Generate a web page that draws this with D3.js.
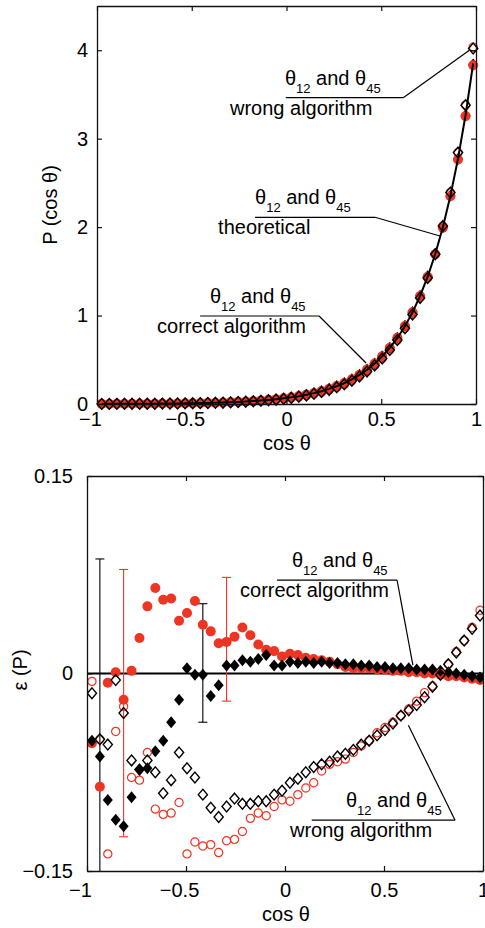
<!DOCTYPE html>
<html>
<head>
<meta charset="utf-8">
<script src="https://cdn.jsdelivr.net/npm/d3@7"></script>
<style>
  html, body { margin: 0; padding: 0; background: #fff; }
  svg { display: block; font-family: "Liberation Sans", Arial, Helvetica, sans-serif; }
</style>
</head>
<body>
<svg id="chart" width="485" height="928"></svg>
<script>
// cos(theta) bin centres shared by both panels
const cosTheta = [
  -0.975,-0.935,-0.895,-0.855,-0.815,-0.775,-0.735,-0.695,-0.655,-0.615,
  -0.575,-0.535,-0.495,-0.455,-0.415,-0.375,-0.335,-0.295,-0.255,-0.215,
  -0.175,-0.135,-0.095,-0.055,-0.015, 0.025, 0.065, 0.105, 0.145, 0.185,
   0.225, 0.265, 0.305, 0.345, 0.385, 0.425, 0.465, 0.505, 0.545, 0.585,
   0.625, 0.665, 0.705, 0.745, 0.785, 0.825, 0.865, 0.905, 0.945, 0.985
];

// Upper panel: P(cos theta)
const pTheory = [
  0.0013,0.0015,0.0017,0.0021,0.0024,0.0028,0.0033,0.0039,0.0046,0.0055,
  0.0064,0.0076,0.0089,0.0105,0.0124,0.0146,0.0172,0.0203,0.0239,0.0281,
  0.0331,0.0390,0.0460,0.0542,0.0638,0.0752,0.0886,0.1044,0.1230,0.1449,
  0.1707,0.2011,0.2369,0.2792,0.3289,0.3875,0.4566,0.5380,0.6338,0.7468,
  0.8799,1.0367,1.2214,1.4391,1.6956,1.9978,2.3538,2.7733,3.2676,3.8500
];
const pCorrect12 = [
  0.0012,0.0014,0.0017,0.0021,0.0024,0.0028,0.0034,0.0041,0.0049,0.0058,
  0.0068,0.0079,0.0093,0.0111,0.0129,0.0151,0.0176,0.0208,0.0246,0.0291,
  0.0341,0.0399,0.0468,0.0551,0.0646,0.0763,0.0898,0.1057,0.1244,0.1463,
  0.1722,0.2025,0.2381,0.2803,0.3302,0.3891,0.4580,0.5396,0.6351,0.7483,
  0.8808,1.0377,1.2214,1.4391,1.6939,1.9938,2.3491,2.7650,3.2545,3.8308
];
const pCorrect45 = [
  0.0012,0.0014,0.0015,0.0019,0.0021,0.0025,0.0031,0.0036,0.0043,0.0052,
  0.0062,0.0074,0.0089,0.0105,0.0124,0.0144,0.0170,0.0204,0.0240,0.0284,
  0.0334,0.0394,0.0466,0.0545,0.0642,0.0759,0.0893,0.1053,0.1240,0.1462,
  0.1721,0.2027,0.2386,0.2812,0.3309,0.3898,0.4589,0.5407,0.6363,0.7498,
  0.8834,1.0398,1.2251,1.4434,1.6990,1.9998,2.3538,2.7705,3.2611,3.8385
];
const pWrong12 = [
  0.0013,0.0014,0.0015,0.0020,0.0023,0.0026,0.0030,0.0037,0.0041,0.0049,
  0.0057,0.0069,0.0077,0.0092,0.0108,0.0127,0.0149,0.0177,0.0209,0.0247,
  0.0295,0.0349,0.0410,0.0487,0.0577,0.0679,0.0804,0.0953,0.1128,0.1342,
  0.1589,0.1876,0.2215,0.2624,0.3108,0.3677,0.4361,0.5159,0.6103,0.7229,
  0.8561,1.0149,1.2037,1.4254,1.6956,2.0118,2.3926,2.8426,3.3820,4.0348
];
const pWrong45 = [
  0.0013,0.0014,0.0016,0.0021,0.0023,0.0026,0.0031,0.0036,0.0043,0.0050,
  0.0059,0.0071,0.0083,0.0097,0.0113,0.0131,0.0153,0.0182,0.0216,0.0253,
  0.0298,0.0352,0.0415,0.0492,0.0581,0.0690,0.0815,0.0966,0.1143,0.1349,
  0.1593,0.1884,0.2224,0.2630,0.3111,0.3677,0.4351,0.5149,0.6097,0.7229,
  0.8553,1.0118,1.1994,1.4247,1.6939,2.0118,2.3915,2.8426,3.3787,4.0194
];

// Lower panel: relative error epsilon(P)
const errCorrect12 = [
  -0.053,-0.086,-0.007, 0.001,-0.020, 0.002, 0.027, 0.051, 0.065, 0.056,
   0.057, 0.040, 0.046, 0.055, 0.037, 0.032, 0.023, 0.024, 0.028, 0.035,
   0.029, 0.022, 0.018, 0.017, 0.013, 0.015, 0.014, 0.012, 0.011, 0.010,
   0.009, 0.007, 0.005, 0.004, 0.004, 0.004, 0.003, 0.003, 0.002, 0.002,
   0.001, 0.001, 0.000, 0.000,-0.001,-0.002,-0.002,-0.003,-0.004,-0.005
];
const errCorrect45 = [
  -0.051,-0.063,-0.096,-0.111,-0.116,-0.094,-0.073,-0.072,-0.059,-0.051,
  -0.037,-0.020, 0.004,-0.001,-0.001,-0.017,-0.009, 0.006, 0.006, 0.010,
   0.009, 0.011, 0.014, 0.006, 0.006, 0.009, 0.008, 0.009, 0.008, 0.009,
   0.008, 0.008, 0.007, 0.007, 0.006, 0.006, 0.005, 0.005, 0.004, 0.004,
   0.004, 0.003, 0.003, 0.003, 0.002, 0.001, 0.000,-0.001,-0.002,-0.003
];
const errWrong12 = [
  -0.006,-0.050,-0.137,-0.044,-0.025,-0.079,-0.081,-0.060,-0.103,-0.107,
  -0.106,-0.098,-0.137,-0.128,-0.131,-0.130,-0.136,-0.127,-0.126,-0.120,
  -0.110,-0.106,-0.108,-0.101,-0.096,-0.097,-0.092,-0.087,-0.083,-0.074,
  -0.069,-0.067,-0.065,-0.060,-0.055,-0.051,-0.045,-0.041,-0.037,-0.032,
  -0.027,-0.021,-0.0145,-0.0095,0.000, 0.007, 0.0165,0.025, 0.035, 0.048
];
const errWrong45 = [
  -0.015,-0.050,-0.054,-0.005,-0.030,-0.066,-0.073,-0.066,-0.075,-0.091,
  -0.081,-0.060,-0.072,-0.079,-0.092,-0.102,-0.109,-0.101,-0.095,-0.099,
  -0.099,-0.097,-0.097,-0.092,-0.089,-0.083,-0.080,-0.075,-0.071,-0.069,
  -0.067,-0.063,-0.061,-0.058,-0.054,-0.051,-0.047,-0.043,-0.038,-0.032,
  -0.028,-0.024,-0.018,-0.010,-0.001, 0.007, 0.016, 0.025, 0.034, 0.044
];

// Error bars in the lower panel
const errBarX      = [-0.935, -0.815, -0.415, -0.295];
const errBarLow    = [-0.213, -0.124, -0.037, -0.021];
const errBarHigh   = [ 0.087,  0.079,  0.053,  0.073];
const errBarSeries = ["correct45", "correct12", "correct45", "correct12"];

// Tick values and labels
const xTicks = [-1, -0.5, 0, 0.5, 1];
const xTickLabels = ["\u22121", "\u22120.5", "0", "0.5", "1"];
const pTicks = [0, 1, 2, 3, 4];
const pTickLabels = ["0", "1", "2", "3", "4"];
const errTicks = [-0.15, 0, 0.15];
const errTickLabels = ["\u22120.15", "0", "0.15"];

// ---------------------------------------------------------------
const RED = "#ee3524";
const svg = d3.select("#chart");

const styles = {
  correct12: { shape: "circle",  filled: true,  color: RED },
  correct45: { shape: "diamond", filled: true,  color: "#000" },
  wrong12:   { shape: "circle",  filled: false, color: RED },
  wrong45:   { shape: "diamond", filled: false, color: "#000" }
};

function markerPath(shape, filled) {
  if (shape === "circle") {
    const r = filled ? 5 : 4.1;
    return `M${r},0A${r},${r} 0 1,1 ${-r},0A${r},${r} 0 1,1 ${r},0Z`;
  }
  const w = filled ? 5 : 4.6, h = filled ? 6 : 5.4;
  return `M0,${-h}L${w},0L0,${h}L${-w},0Z`;
}

function drawSeries(g, x, y, key, values) {
  const st = styles[key];
  g.append("g").selectAll("path")
    .data(values.map((v, i) => [cosTheta[i], v]))
    .join("path")
    .attr("transform", d => `translate(${x(d[0])},${y(d[1])})`)
    .attr("d", markerPath(st.shape, st.filled))
    .attr("fill", st.filled ? st.color : "none")
    .attr("stroke", st.filled ? "none" : st.color)
    .attr("stroke-width", st.filled ? 0 : (st.shape === "circle" ? 1.2 : 1.4));
}

function frame(g, x, y, o) {
  const [x0, x1] = x.range();
  const [y0, y1] = y.range();
  const font = sel => sel.selectAll("text")
    .attr("font-size", 20)
    .attr("font-family", "'Liberation Sans', Arial, Helvetica, sans-serif")
    .attr("fill", "#000");

  const bx = g.append("g").attr("transform", `translate(0,${y0})`)
    .call(d3.axisBottom(x).tickValues(xTicks).tickSize(-5).tickSizeOuter(0)
      .tickPadding(o.xPad).tickFormat((d, i) => xTickLabels[i]));
  font(bx);
  bx.selectAll("text").attr("dx", d => d < 0 ? -7 : 0);

  const ly = g.append("g").attr("transform", `translate(${x0},0)`)
    .call(d3.axisLeft(y).tickValues(o.yTicks).tickSize(-5).tickSizeOuter(0)
      .tickPadding(o.yPad).tickFormat((d, i) => o.yLabels[i]));
  font(ly);

  g.append("g").attr("transform", `translate(0,${y1})`)
    .call(d3.axisTop(x).tickValues(xTicks).tickSize(-5).tickSizeOuter(0).tickFormat(""));
  g.append("g").attr("transform", `translate(${x1},0)`)
    .call(d3.axisRight(y).tickValues(o.yTicks).tickSize(-5).tickSizeOuter(0).tickFormat(""));

  g.selectAll(".domain").attr("stroke", "#111").attr("stroke-width", 1.3);
  g.selectAll(".tick line").attr("stroke", "#111").attr("stroke-width", 1.2);
}

function fractionLabel(g, x, y, a) {
  const bx0 = x(a.bar[0]), bx1 = x(a.bar[1]), by = y(a.barY);
  g.append("line").attr("x1", bx0).attr("x2", bx1).attr("y1", by).attr("y2", by)
    .attr("stroke", "#000").attr("stroke-width", 1.2);
  g.append("line").attr("x1", bx1).attr("y1", by)
    .attr("x2", x(a.target[0])).attr("y2", y(a.target[1]))
    .attr("stroke", "#000").attr("stroke-width", 1.2);
  const num = g.append("text").attr("x", x(a.numX)).attr("y", by - 13)
    .attr("font-size", 20).attr("fill", "#000");
  num.append("tspan").text("\u03b8");
  num.append("tspan").attr("font-size", 13).attr("dy", 8).text("12");
  num.append("tspan").attr("font-size", 20).attr("dy", -8).text(" and \u03b8");
  num.append("tspan").attr("font-size", 13).attr("dy", 8).text("45");
  g.append("text").attr("x", x(a.denX)).attr("y", by + 17)
    .attr("font-size", 20).attr("fill", "#000").text(a.text);
}

// ---------------- Upper panel ----------------
{
  const x = d3.scaleLinear().domain([-1, 1]).range([97, 476]);
  const y = d3.scaleLinear().domain([0, 4.5]).range([404, 6]);
  const g = svg.append("g");

  drawSeries(g, x, y, "correct45", pCorrect45);
  drawSeries(g, x, y, "correct12", pCorrect12);
  drawSeries(g, x, y, "wrong12", pWrong12);
  drawSeries(g, x, y, "wrong45", pWrong45);

  g.append("path")
    .datum(pTheory.map((v, i) => [cosTheta[i], v]))
    .attr("fill", "none").attr("stroke", "#000").attr("stroke-width", 2)
    .attr("d", d3.line().x(d => x(d[0])).y(d => y(d[1])));

  frame(g, x, y, { yTicks: pTicks, yLabels: pTickLabels, xPad: 8, yPad: 9 });

  const ann = [
    { text: "wrong algorithm",   bar: [-0.004, 0.616], barY: 3.463, numX: -0.008, denX: -0.298, target: [0.965, 4.0] },
    { text: "theoretical",       bar: [-0.166, 0.467], barY: 2.111, numX: -0.166, denX: -0.361, target: [0.810, 1.90] },
    { text: "correct algorithm", bar: [-0.456, 0.172], barY: 0.995, numX: -0.404, denX: -0.683, target: [0.420, 0.464] }
  ];
  ann.forEach(a => fractionLabel(g, x, y, a));

  g.append("text").attr("x", 287).attr("y", 450).attr("text-anchor", "middle")
    .attr("font-size", 20).text("cos \u03b8");
  g.append("text").attr("transform", "translate(57,205) rotate(-90)")
    .attr("text-anchor", "middle").attr("font-size", 20).text("P (cos \u03b8)");
}

// ---------------- Lower panel ----------------
{
  const x = d3.scaleLinear().domain([-1, 1]).range([87, 483]);
  const y = d3.scaleLinear().domain([-0.15, 0.15]).range([871, 476]);
  const g = svg.append("g");

  svg.append("defs").append("clipPath").attr("id", "clipLower")
    .append("rect").attr("x", 87).attr("y", 476).attr("width", 396).attr("height", 395);
  const inner = g.append("g").attr("clip-path", "url(#clipLower)");

  inner.append("path")
    .datum([[-1, 0], [1, 0]])
    .attr("fill", "none").attr("stroke", "#000").attr("stroke-width", 1.8)
    .attr("d", d3.line().x(d => x(d[0])).y(d => y(d[1])));

  // error bars
  const bars = inner.append("g").selectAll("g")
    .data(errBarX.map((v, i) => ({ x: v, lo: errBarLow[i], hi: errBarHigh[i], c: styles[errBarSeries[i]].color })))
    .join("g").attr("stroke", d => d.c).attr("stroke-width", 1.1);
  bars.append("line").attr("x1", d => x(d.x)).attr("x2", d => x(d.x))
    .attr("y1", d => y(d.lo)).attr("y2", d => y(d.hi));
  bars.append("line").attr("x1", d => x(d.x) - 4.5).attr("x2", d => x(d.x) + 4.5)
    .attr("y1", d => y(d.hi)).attr("y2", d => y(d.hi));
  bars.append("line").attr("x1", d => x(d.x) - 4.5).attr("x2", d => x(d.x) + 4.5)
    .attr("y1", d => y(d.lo)).attr("y2", d => y(d.lo));

  drawSeries(inner, x, y, "correct12", errCorrect12);
  drawSeries(inner, x, y, "correct45", errCorrect45);
  drawSeries(inner, x, y, "wrong12", errWrong12);
  drawSeries(inner, x, y, "wrong45", errWrong45);

  frame(g, x, y, { yTicks: errTicks, yLabels: errTickLabels, xPad: 12, yPad: 14 });

  const ann = [
    { text: "correct algorithm", bar: [-0.040, 0.566], barY: 0.0709,  numX: 0.035, denX: -0.227, target: [0.646, 0.0063] },
    { text: "wrong algorithm",   bar: [0.135, 0.859],  barY: -0.1114, numX: 0.308, denX: 0.025,  target: [0.623, -0.0393] }
  ];
  ann.forEach(a => fractionLabel(g, x, y, a));

  g.append("text").attr("x", 286).attr("y", 921).attr("text-anchor", "middle")
    .attr("font-size", 20).text("cos \u03b8");
  g.append("text").attr("transform", "translate(27,670) rotate(-90)")
    .attr("text-anchor", "middle").attr("font-size", 20).text("\u03b5 (P)");
}
</script>
</body>
</html>
